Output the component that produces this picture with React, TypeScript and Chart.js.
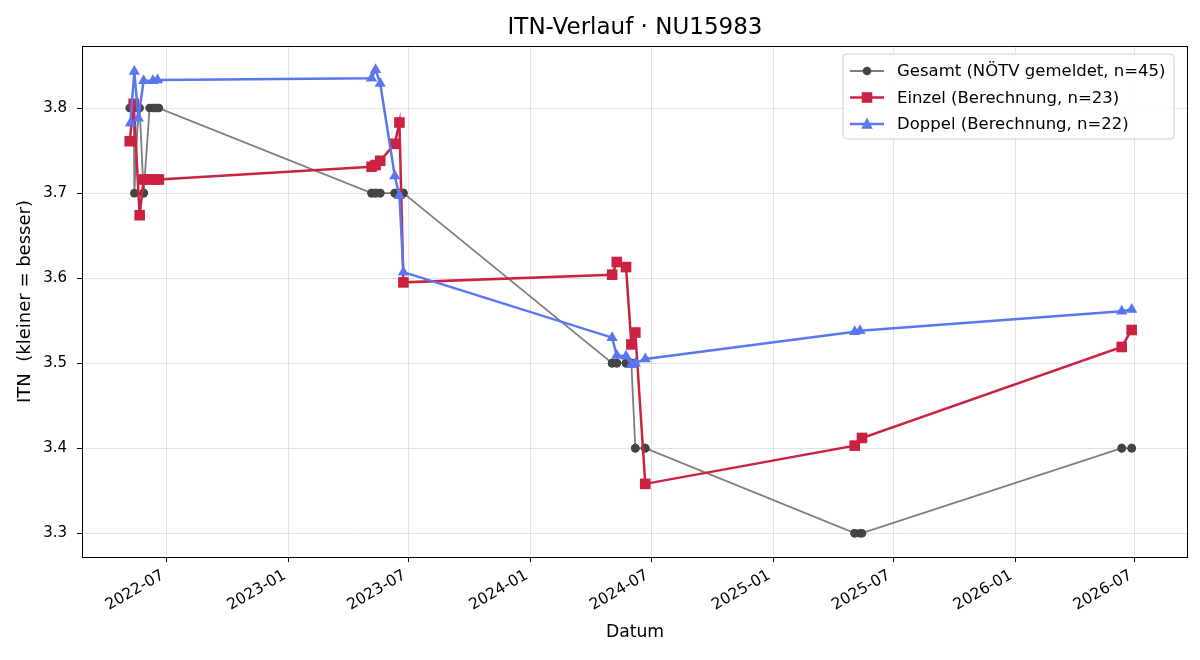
import React, { useEffect, useRef } from "react";
import { Chart, registerables } from "chart.js";

Chart.register(...registerables);

const FONT = "'DejaVu Sans', Verdana, sans-serif";

// ---- data ----
const einzelDates = [
  "2022-05-06", "2022-05-12", "2022-05-21", "2022-05-27", "2022-06-05", "2022-06-13", "2022-06-19",
  "2023-05-06", "2023-05-12", "2023-05-19", "2023-06-10", "2023-06-17", "2023-06-23",
  "2024-05-03", "2024-05-10", "2024-05-24", "2024-06-01", "2024-06-07", "2024-06-22",
  "2025-05-04", "2025-05-15",
  "2026-06-11", "2026-06-26",
];
const einzelValues = [
  3.761, 3.805, 3.674, 3.716, 3.716, 3.716, 3.716,
  3.731, 3.733, 3.738, 3.758, 3.783, 3.595,
  3.604, 3.619, 3.613, 3.522, 3.536, 3.358,
  3.403, 3.412,
  3.519, 3.539,
];

const doppelDates = [
  "2022-05-07", "2022-05-13", "2022-05-19", "2022-05-27", "2022-06-10", "2022-06-17",
  "2023-05-06", "2023-05-12", "2023-05-19", "2023-06-10", "2023-06-17", "2023-06-23",
  "2024-05-03", "2024-05-10", "2024-05-24", "2024-06-01", "2024-06-07", "2024-06-22",
  "2025-05-04", "2025-05-12",
  "2026-06-11", "2026-06-26",
];
const doppelValues = [
  3.782, 3.843, 3.788, 3.832, 3.832, 3.833,
  3.835, 3.845, 3.829, 3.720, 3.697, 3.607,
  3.530, 3.509, 3.508, 3.498, 3.500, 3.505,
  3.537, 3.538,
  3.561, 3.563,
];

const gesamtDates = [
  "2022-05-06", "2022-05-07", "2022-05-12", "2022-05-13", "2022-05-19", "2022-05-21", "2022-05-27",
  "2022-05-27", "2022-06-05", "2022-06-10", "2022-06-13", "2022-06-17", "2022-06-19",
  "2023-05-06", "2023-05-06", "2023-05-12", "2023-05-12", "2023-05-19", "2023-05-19",
  "2023-06-10", "2023-06-10", "2023-06-17", "2023-06-17", "2023-06-23", "2023-06-23",
  "2024-05-03", "2024-05-03", "2024-05-10", "2024-05-10", "2024-05-24", "2024-05-24",
  "2024-06-01", "2024-06-01", "2024-06-07", "2024-06-07", "2024-06-22", "2024-06-22",
  "2025-05-04", "2025-05-04", "2025-05-12", "2025-05-15",
  "2026-06-11", "2026-06-11", "2026-06-26", "2026-06-26",
];
const gesamtValues = [
  3.8, 3.8, 3.8, 3.7, 3.8, 3.8, 3.7,
  3.7, 3.8, 3.8, 3.8, 3.8, 3.8,
  3.7, 3.7, 3.7, 3.7, 3.7, 3.7,
  3.7, 3.7, 3.7, 3.7, 3.7, 3.7,
  3.5, 3.5, 3.5, 3.5, 3.5, 3.5,
  3.5, 3.5, 3.4, 3.4, 3.4, 3.4,
  3.3, 3.3, 3.3, 3.3,
  3.4, 3.4, 3.4, 3.4,
];

const xTickLabels = ["2022-07", "2023-01", "2023-07", "2024-01", "2024-07", "2025-01", "2025-07", "2026-01", "2026-07"];
const yTickValues = [3.3, 3.4, 3.5, 3.6, 3.7, 3.8];
const xMinDate = "2022-02-23";
const xMaxDate = "2026-09-19";
const yMin = 3.272;
const yMax = 3.873;

const TITLE = "ITN-Verlauf · NU15983";
const X_LABEL = "Datum";
const Y_LABEL = "ITN  (kleiner = besser)";

const GRAY_LINE = "rgba(90,90,90,0.78)";
const GRAY_MARK = "#444444";
const RED = "#cc2241";
const BLUE = "#5877f0";

const X_TICK_FONT = 15.5;
const X_TICK_ROT = (30 * Math.PI) / 180;

function ts(s: string): number {
  const [y, m, d] = s.split("-").map(Number);
  return Date.UTC(y, m - 1, d || 1);
}

const legendEntries = [
  { label: `Gesamt (NÖTV gemeldet, n=${gesamtValues.length})`, color: GRAY_LINE, mark: GRAY_MARK, shape: "circle", lw: 1.8 },
  { label: `Einzel (Berechnung, n=${einzelValues.length})`, color: RED, mark: RED, shape: "rect", lw: 2.5 },
  { label: `Doppel (Berechnung, n=${doppelValues.length})`, color: BLUE, mark: BLUE, shape: "triangle", lw: 2.5 },
];

function drawMarker(ctx: CanvasRenderingContext2D, shape: string, x: number, y: number, color: string) {
  ctx.fillStyle = color;
  ctx.beginPath();
  if (shape === "circle") {
    ctx.arc(x, y, 4.3, 0, Math.PI * 2);
  } else if (shape === "rect") {
    ctx.rect(x - 5.3, y - 5.3, 10.6, 10.6);
  } else {
    ctx.moveTo(x, y - 6.5);
    ctx.lineTo(x + 5.8, y + 4.8);
    ctx.lineTo(x - 5.8, y + 4.8);
    ctx.closePath();
  }
  ctx.fill();
}

const framePlugin = {
  id: "frameAndLegend",
  afterDraw(chart: any) {
    const { ctx, chartArea: a } = chart;
    ctx.save();
    // rotated x tick labels, matplotlib style (ha=right, va=top after rotation)
    const xs = chart.scales.x;
    ctx.font = `${X_TICK_FONT}px ${FONT}`;
    ctx.fillStyle = "#000";
    ctx.textAlign = "right";
    ctx.textBaseline = "alphabetic";
    const asc = 0.76 * X_TICK_FONT;
    const desc = 0.24 * X_TICK_FONT;
    const topY = a.bottom + 10.5;
    xTickLabels.forEach((lab) => {
      const px = xs.getPixelForValue(ts(lab + "-01"));
      const ax = px - desc * Math.sin(X_TICK_ROT);
      const ay = topY + asc * Math.cos(X_TICK_ROT);
      ctx.save();
      ctx.translate(ax, ay);
      ctx.rotate(-X_TICK_ROT);
      ctx.fillText(lab, 0, 0);
      ctx.restore();
    });
    ctx.restore();
  },
  afterDatasetsDraw(chart: any) {
    const { ctx, chartArea: a } = chart;
    ctx.save();
    ctx.strokeStyle = "#000";
    ctx.lineWidth = 1;
    ctx.strokeRect(Math.round(a.left) + 0.5, Math.round(a.top) + 0.5, Math.round(a.right - a.left) - 1, Math.round(a.bottom - a.top));
    // legend
    const bx = 843, by = 54, bw = 331, bh = 85, r = 4;
    ctx.beginPath();
    ctx.moveTo(bx + r, by);
    ctx.arcTo(bx + bw, by, bx + bw, by + bh, r);
    ctx.arcTo(bx + bw, by + bh, bx, by + bh, r);
    ctx.arcTo(bx, by + bh, bx, by, r);
    ctx.arcTo(bx, by, bx + bw, by, r);
    ctx.closePath();
    ctx.fillStyle = "rgba(255,255,255,0.85)";
    ctx.fill();
    ctx.strokeStyle = "#d0d0d0";
    ctx.stroke();
    legendEntries.forEach((e, i) => {
      const y = 71 + i * 26.5;
      ctx.strokeStyle = e.color;
      ctx.lineWidth = e.lw;
      ctx.beginPath();
      ctx.moveTo(850, y);
      ctx.lineTo(884, y);
      ctx.stroke();
      drawMarker(ctx, e.shape, 867, y, e.mark);
      ctx.fillStyle = "#000";
      ctx.font = `16.5px ${FONT}`;
      ctx.textAlign = "left";
      ctx.textBaseline = "middle";
      ctx.fillText(e.label, 897, y + 1);
    });
    ctx.restore();
  },
};

export default function App() {
  const ref = useRef<HTMLCanvasElement>(null);
  useEffect(() => {
    document.body.style.margin = "0";
    const canvas = ref.current;
    if (!canvas) return;
    const chart = new Chart(canvas, {
      type: "line",
      data: {
        datasets: [
          {
            label: legendEntries[0].label,
            data: gesamtDates.map((d, i) => ({ x: ts(d), y: gesamtValues[i] })),
            borderColor: GRAY_LINE,
            backgroundColor: GRAY_MARK,
            pointBackgroundColor: GRAY_MARK,
            pointBorderColor: GRAY_MARK,
            borderWidth: 1.8,
            pointStyle: "circle",
            pointRadius: 4.3,
            pointBorderWidth: 0,
            tension: 0,
            order: 3,
          },
          {
            label: legendEntries[1].label,
            data: einzelDates.map((d, i) => ({ x: ts(d), y: einzelValues[i] })),
            borderColor: RED,
            backgroundColor: RED,
            pointBackgroundColor: RED,
            pointBorderColor: RED,
            borderWidth: 2.5,
            pointStyle: "rect",
            pointRadius: 7.5,
            pointBorderWidth: 0,
            tension: 0,
            order: 2,
          },
          {
            label: legendEntries[2].label,
            data: doppelDates.map((d, i) => ({ x: ts(d), y: doppelValues[i] })),
            borderColor: BLUE,
            backgroundColor: BLUE,
            pointBackgroundColor: BLUE,
            pointBorderColor: BLUE,
            borderWidth: 2.5,
            pointStyle: "triangle",
            pointRadius: 6.5,
            pointBorderWidth: 0,
            tension: 0,
            order: 1,
          },
        ],
      },
      options: {
        responsive: false,
        animation: false,
        devicePixelRatio: 1,
        layout: { padding: { left: 0, right: 12, top: 0, bottom: 0 } },
        plugins: {
          legend: { display: false },
          tooltip: { enabled: false },
          title: {
            display: true,
            fullSize: false,
            text: TITLE,
            color: "#000",
            font: { family: FONT, size: 23, weight: "normal" },
            padding: { top: 14, bottom: 4.4 },
          },
        },
        scales: {
          x: {
            type: "linear",
            min: ts(xMinDate),
            max: ts(xMaxDate),
            afterBuildTicks: (s: any) => {
              s.ticks = xTickLabels.map((l) => ({ value: ts(l + "-01") }));
            },
            afterFit: (s: any) => {
              s.height = 103;
            },
            ticks: {
              display: false,
              autoSkip: false,
            },
            grid: { color: "#e2e2e2", tickColor: "#000", tickLength: 5, lineWidth: 1, drawTicks: true },
            border: { display: false },
            title: {
              display: true,
              text: X_LABEL,
              color: "#000",
              font: { family: FONT, size: 17.2 },
              padding: { top: 0, bottom: 17 },
            },
          },
          y: {
            type: "linear",
            min: yMin,
            max: yMax,
            afterBuildTicks: (s: any) => {
              s.ticks = yTickValues.map((v) => ({ value: v }));
            },
            afterFit: (s: any) => {
              s.width = 82;
            },
            ticks: {
              callback: (v: any) => Number(v).toFixed(1),
              color: "#000",
              font: { family: FONT, size: 15 },
              padding: 10,
            },
            grid: { color: "#e2e2e2", tickColor: "#000", tickLength: 5, lineWidth: 1 },
            border: { display: false },
            title: {
              display: true,
              text: Y_LABEL,
              color: "#000",
              font: { family: FONT, size: 18 },
              padding: { top: 15, bottom: 0 },
            },
          },
        },
      },
      plugins: [framePlugin],
    } as any);
    return () => chart.destroy();
  }, []);
  return (
    <div style={{ width: 1200, height: 660 }}>
      <canvas ref={ref} width={1200} height={660} style={{ display: "block" }} />
    </div>
  );
}
